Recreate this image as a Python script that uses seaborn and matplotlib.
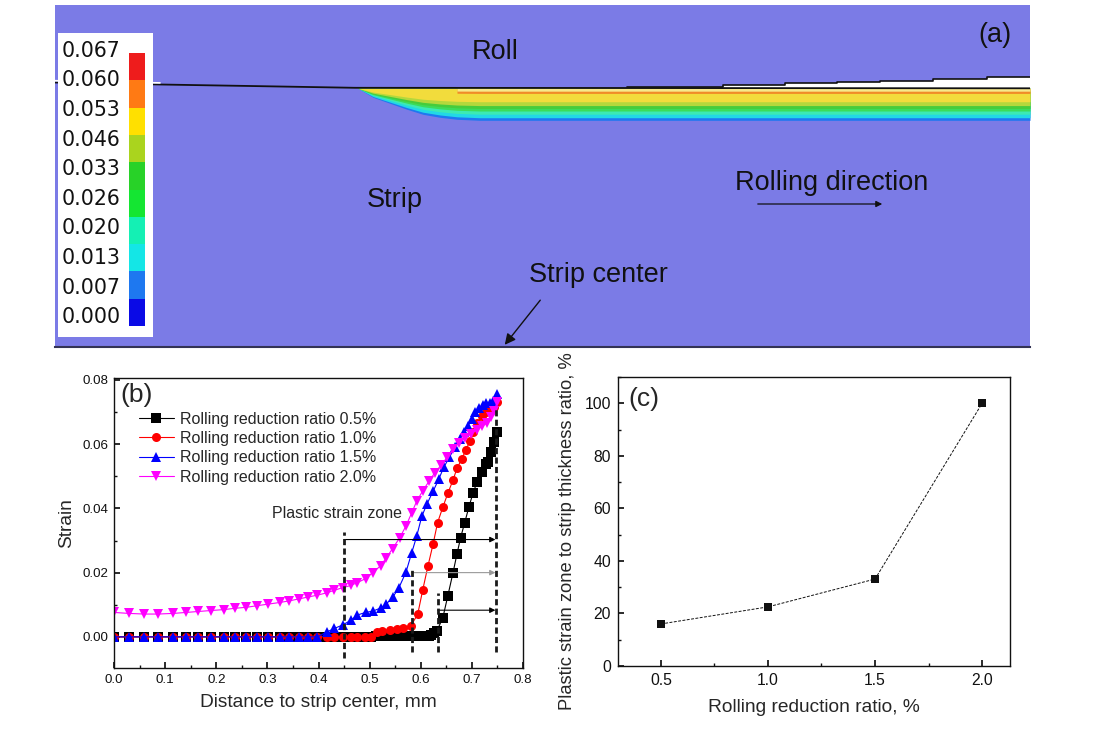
import matplotlib
matplotlib.use("Agg")
import matplotlib.pyplot as plt
import seaborn as sns
import pandas as pd
from matplotlib.ticker import MultipleLocator, FormatStrFormatter
from matplotlib.patches import Rectangle

# ---------------- panel (b): strain vs distance to strip center ----------------
x_core = [0.000, 0.029, 0.059, 0.086, 0.116, 0.141, 0.165, 0.190, 0.216, 0.237,
          0.259, 0.280, 0.302, 0.324, 0.343, 0.361, 0.380, 0.398]
zero_core = [0.0, 0.0, 0.0, 0.0, 0.0, 0.0, 0.0, 0.0, 0.0, 0.0,
             0.0, 0.0, 0.0, 0.0, 0.0, 0.0, 0.0, 0.0]

x_05 = x_core + [0.416, 0.431, 0.447, 0.463, 0.476, 0.490, 0.502,
                 0.512, 0.518, 0.523, 0.529, 0.534, 0.540, 0.545, 0.551, 0.556, 0.562,
                 0.567, 0.573, 0.578, 0.584, 0.589, 0.595, 0.600, 0.606, 0.611, 0.616,
                 0.620, 0.626, 0.631,
                 0.643, 0.653, 0.663, 0.671, 0.678, 0.686, 0.694, 0.702, 0.710, 0.720,
                 0.727, 0.731, 0.737, 0.743, 0.749]
y_05 = zero_core + [0.0, 0.0, 0.0, 0.0, 0.0, 0.0, 0.0,
                    0.0002, 0.0002, 0.0002, 0.0002, 0.0002, 0.0002, 0.0002, 0.0002, 0.0002, 0.0002,
                    0.0002, 0.0002, 0.0002, 0.0002, 0.0002, 0.0002, 0.0002, 0.0002, 0.0002, 0.0002,
                    0.0006, 0.0012, 0.0017,
                    0.0058, 0.0128, 0.0199, 0.0259, 0.0309, 0.0356, 0.0403, 0.0447, 0.0481, 0.0513,
                    0.0538, 0.0544, 0.0575, 0.0606, 0.0638]

x_10 = x_core + [0.416, 0.431, 0.447, 0.463, 0.476, 0.490, 0.502, 0.514, 0.525, 0.539,
                 0.553, 0.565, 0.580, 0.594, 0.604, 0.614, 0.624, 0.633, 0.643, 0.653,
                 0.663, 0.671, 0.680, 0.688, 0.696, 0.702, 0.710, 0.720, 0.727, 0.735,
                 0.743, 0.749]
y_10 = zero_core + [0.0, 0.0, 0.0, 0.0, 0.0, 0.0, 0.0, 0.0016, 0.0019, 0.0022,
                    0.0025, 0.0028, 0.0033, 0.0070, 0.0147, 0.0220, 0.0288, 0.0356, 0.0403, 0.0447,
                    0.0488, 0.0525, 0.0553, 0.0581, 0.0609, 0.0638, 0.0666, 0.0688, 0.0700, 0.0709,
                    0.0716, 0.0731]

x_15 = x_core + [0.416, 0.431, 0.447, 0.463, 0.476, 0.492, 0.506, 0.522, 0.533, 0.545,
                 0.557, 0.571, 0.582, 0.592, 0.602, 0.612, 0.624, 0.635, 0.645, 0.656,
                 0.667, 0.676, 0.684, 0.692, 0.700, 0.707, 0.714, 0.721, 0.728, 0.735,
                 0.742, 0.749]
y_15 = zero_core + [0.0015, 0.0026, 0.0037, 0.0051, 0.0068, 0.0076, 0.0080, 0.0090, 0.0103, 0.0123,
                    0.0152, 0.0201, 0.0260, 0.0313, 0.0375, 0.0413, 0.0453, 0.0490, 0.0528, 0.0559,
                    0.0591, 0.0616, 0.0638, 0.0656, 0.0678, 0.0700, 0.0712, 0.0722, 0.0728, 0.0728,
                    0.0734, 0.0756]

x_20 = x_core + [0.416, 0.431, 0.447, 0.463, 0.476, 0.492, 0.506, 0.522, 0.533, 0.545,
                 0.559, 0.571, 0.582, 0.592, 0.604, 0.616, 0.627, 0.640, 0.652, 0.663,
                 0.674, 0.686, 0.698, 0.710, 0.720, 0.730, 0.738, 0.744, 0.749]
y_20 = [0.0076, 0.0073, 0.0071, 0.0071, 0.0073, 0.0076, 0.0079, 0.0082, 0.0085, 0.0089,
        0.0092, 0.0097, 0.0102, 0.0107, 0.0112, 0.0118, 0.0124, 0.0130,
        0.0137, 0.0145, 0.0153, 0.0160, 0.0169, 0.0181, 0.0200, 0.0222, 0.0247, 0.0275,
        0.0309, 0.0345, 0.0385, 0.0422, 0.0455, 0.0484, 0.0510, 0.0535, 0.0560, 0.0584,
        0.0603, 0.0618, 0.0632, 0.0644, 0.0656, 0.0666, 0.0685, 0.0703, 0.0730]

series_labels = ["Rolling reduction ratio 0.5%", "Rolling reduction ratio 1.0%",
                 "Rolling reduction ratio 1.5%", "Rolling reduction ratio 2.0%"]
series_colors = ["#000000", "#ff0000", "#0000ff", "#ff00ff"]
series_markers = ["s", "o", "^", "v"]

# plastic strain zone limits (mm) and arrow heights
zone_start = [0.450, 0.582, 0.633]
zone_top = [0.0325, 0.0210, 0.0135]
zone_bottom = [-0.0065, -0.0047, -0.0047]
zone_arrow_y = [0.0303, 0.0200, 0.0083]
zone_arrow_color = ["#000000", "#999999", "#000000"]
surface_x = 0.748

# ---------------- panel (c) ----------------
ratio = [0.5, 1.0, 1.5, 2.0]
zone_ratio = [16.0, 22.5, 33.1, 100.0]

# ---------------- panel (a): FE strain contour (image pixel units) ----------------
cbar_labels = ["0.067", "0.060", "0.053", "0.046", "0.033",
               "0.026", "0.020", "0.013", "0.007", "0.000"]
cbar_colors = ["#ee1c1c", "#ff7a14", "#ffe000", "#aad41e", "#28d228",
               "#14e632", "#14f0b4", "#14e6e6", "#1e78f0", "#0a0ae6"]
# deformed layer: columns and full depth below the surface
zone_x = [358, 373, 390, 407, 423, 440, 457, 480, 520, 600, 1030]
zone_depth = [0, 9, 15, 21, 26, 29, 31, 32, 32, 32, 32]
band_colors = ["#1e78f0", "#22d8e6", "#3ceab4", "#3cdc5a", "#46cc3c",
               "#b4d83c", "#f2dc3c", "#f08c28", "#f7e98a"]
band_frac = [1.0, 0.92, 0.81, 0.71, 0.63, 0.54, 0.42, 0.16, 0.09]
# strip surface and roll surface
surf_x = [55, 160, 250, 355, 1030]
surf_y = [82.5, 84.5, 86.0, 87.8, 88.3]
roll_x = [627, 723, 785, 837, 880, 933, 987, 1030]
roll_y = [86.7, 85.0, 83.3, 81.7, 80.7, 79.0, 76.7, 76.7]

W, H = 1103, 734
fig = plt.figure(figsize=(W / 100, H / 100), dpi=100)
sns.set_theme(style="ticks")
plt.rcParams["font.family"] = ["Liberation Sans", "DejaVu Sans"]

# ---------------- draw (a) ----------------
ax_a = fig.add_axes([55 / W, 1 - 347 / H, 975 / W, 342 / H])
ax_a.set_xlim(55, 1030)
ax_a.set_ylim(347, 5)
ax_a.set_facecolor("#7b7be6")
ax_a.set_xticks([])
ax_a.set_yticks([])
for s in ["top", "left", "right"]:
    ax_a.spines[s].set_visible(False)
ax_a.spines["bottom"].set_color("#333355")
ax_a.spines["bottom"].set_linewidth(1.5)

base = 88.3
for col, frac in zip(band_colors[:7], band_frac[:7]):
    ax_a.fill_between(zone_x, base, [base + d * frac for d in zone_depth],
                      color=col, lw=0, zorder=2)
mask = [x >= 457 for x in zone_x]
ax_a.fill_between(zone_x, base, [base + d * band_frac[7] for d in zone_depth],
                  where=mask, color=band_colors[7], lw=0, zorder=3)
ax_a.fill_between(zone_x, base, [base + d * band_frac[8] for d in zone_depth],
                  where=mask, color=band_colors[8], lw=0, zorder=3)

ax_a.fill_between(roll_x, roll_y, base, step="post", color="white", lw=0, zorder=4)
ax_a.step(roll_x, roll_y, where="post", color="#111111", lw=1.2, zorder=5)
ax_a.plot(surf_x, surf_y, color="#111111", lw=1.3, zorder=5)
ax_a.plot(surf_x[:2], [surf_y[0] - 1.8, surf_y[1] - 1.6], color="white", lw=1.2, zorder=5)

# legend box of the contour
ax_a.add_patch(Rectangle((58, 33), 95, 304, facecolor="white", edgecolor="none", zorder=6))
seg_h = (326 - 53) / len(cbar_colors)
for i, col in enumerate(cbar_colors):
    ax_a.add_patch(Rectangle((129, 53 + i * seg_h), 16, seg_h, facecolor=col,
                             edgecolor="none", zorder=7))
for i, lab in enumerate(cbar_labels):
    ax_a.text(62, 50.7 + i * 29.6, lab, fontsize=14.8, family="DejaVu Sans",
              ha="left", va="center", zorder=8, color="#111111")

txt = dict(fontsize=19.5, color="#111111", zorder=8)
ax_a.text(495, 52, "Roll", ha="center", va="center", **txt)
ax_a.text(395, 200, "Strip", ha="center", va="center", **txt)
ax_a.text(832, 183, "Rolling direction", ha="center", va="center", **txt)
ax_a.text(529, 275, "Strip center", ha="left", va="center", **txt)
ax_a.text(995, 35, "(a)", ha="center", va="center", **txt)
ax_a.annotate("", xy=(885, 204), xytext=(755, 204),
              arrowprops=dict(arrowstyle="-|>", lw=0.9, color="#111111", mutation_scale=9),
              zorder=8)
ax_a.annotate("", xy=(503, 347), xytext=(542, 298),
              arrowprops=dict(arrowstyle="-|>", lw=1.0, color="#111111", mutation_scale=16),
              zorder=8)

# ---------------- draw (b) ----------------
ax_b = fig.add_axes([114 / W, 1 - 668 / H, 409 / W, 290 / H])
frames = []
for lab, xs, ys in zip(series_labels, [x_05, x_10, x_15, x_20], [y_05, y_10, y_15, y_20]):
    frames.append(pd.DataFrame({"distance": xs, "strain": ys, "series": lab}))
df_b = pd.concat(frames, ignore_index=True)

sns.lineplot(data=df_b, x="distance", y="strain", hue="series", style="series",
             palette=dict(zip(series_labels, series_colors)),
             markers=dict(zip(series_labels, series_markers)), dashes=False,
             estimator=None, sort=False, lw=0.8, markersize=6.5,
             markeredgewidth=0, ax=ax_b)

for x0, y0, y1 in zip(zone_start + [surface_x], zone_bottom + [-0.0047],
                      zone_top + [0.0715]):
    ax_b.plot([x0, x0], [y0, y1], color="k", lw=2.0, linestyle=(0, (2.2, 1.2)), zorder=5)
for x0, ya, col in zip(zone_start, zone_arrow_y, zone_arrow_color):
    ax_b.annotate("", xy=(surface_x - 0.002, ya), xytext=(x0, ya),
                  arrowprops=dict(arrowstyle="-|>", lw=0.8, color=col, mutation_scale=8,
                                  shrinkA=0, shrinkB=0), zorder=4)
ax_b.text(0.437, 0.0383, "Plastic strain zone", fontsize=11.5, ha="center", va="center")

ax_b.set_xlim(0, 0.8)
ax_b.set_ylim(-0.0097, 0.0806)
ax_b.xaxis.set_major_locator(MultipleLocator(0.1))
ax_b.xaxis.set_minor_locator(MultipleLocator(0.05))
ax_b.yaxis.set_major_locator(MultipleLocator(0.02))
ax_b.yaxis.set_minor_locator(MultipleLocator(0.01))
ax_b.xaxis.set_major_formatter(FormatStrFormatter("%.1f"))
ax_b.yaxis.set_major_formatter(FormatStrFormatter("%.2f"))
ax_b.tick_params(which="both", direction="in", labelsize=9.6, pad=4, colors="#111111")
ax_b.tick_params(which="major", length=4)
ax_b.tick_params(which="minor", length=2.5)
ax_b.set_xlabel("Distance to strip center, mm", fontsize=13.8, labelpad=6)
ax_b.set_ylabel("Strain", fontsize=13.8, labelpad=5)
for s in ax_b.spines.values():
    s.set_color("#111111")
    s.set_linewidth(1.0)
handles, labels = ax_b.get_legend_handles_labels()
ax_b.legend(handles, labels, loc="upper left", bbox_to_anchor=(0.06, 0.884),
            frameon=False, fontsize=11.5, handlelength=2.2, handletextpad=0.4,
            labelspacing=0.27, borderpad=0, borderaxespad=0)
ax_b.text(0.015, 0.94, "(b)", transform=ax_b.transAxes, fontsize=19, ha="left", va="center")

# ---------------- draw (c) ----------------
ax_c = fig.add_axes([618 / W, 1 - 666 / H, 392 / W, 289 / H])
df_c = pd.DataFrame({"ratio": ratio, "zone": zone_ratio})
sns.lineplot(data=df_c, x="ratio", y="zone", color="#111111", marker="s", markersize=6,
             markeredgewidth=0, lw=0.7, ax=ax_c)
ax_c.lines[0].set_linestyle((0, (3, 1.5)))
ax_c.set_xlim(0.3, 2.13)
ax_c.set_ylim(0, 110)
ax_c.xaxis.set_major_locator(MultipleLocator(0.5))
ax_c.xaxis.set_minor_locator(MultipleLocator(0.25))
ax_c.yaxis.set_major_locator(MultipleLocator(20))
ax_c.yaxis.set_minor_locator(MultipleLocator(10))
ax_c.xaxis.set_major_formatter(FormatStrFormatter("%.1f"))
ax_c.tick_params(which="both", direction="in", labelsize=11.3, pad=5, colors="#111111")
ax_c.tick_params(which="major", length=4)
ax_c.tick_params(which="minor", length=2.5)
ax_c.set_xlabel("Rolling reduction ratio, %", fontsize=13.8, labelpad=8)
ax_c.set_ylabel("Plastic strain zone to strip thickness ratio, %", fontsize=13.2)
ax_c.yaxis.set_label_coords(-0.107, 0.465)
for s in ax_c.spines.values():
    s.set_color("#111111")
    s.set_linewidth(1.0)
ax_c.text(0.026, 0.924, "(c)", transform=ax_c.transAxes, fontsize=19, ha="left", va="center")

fig.savefig("out.png", dpi=100, facecolor="white")
